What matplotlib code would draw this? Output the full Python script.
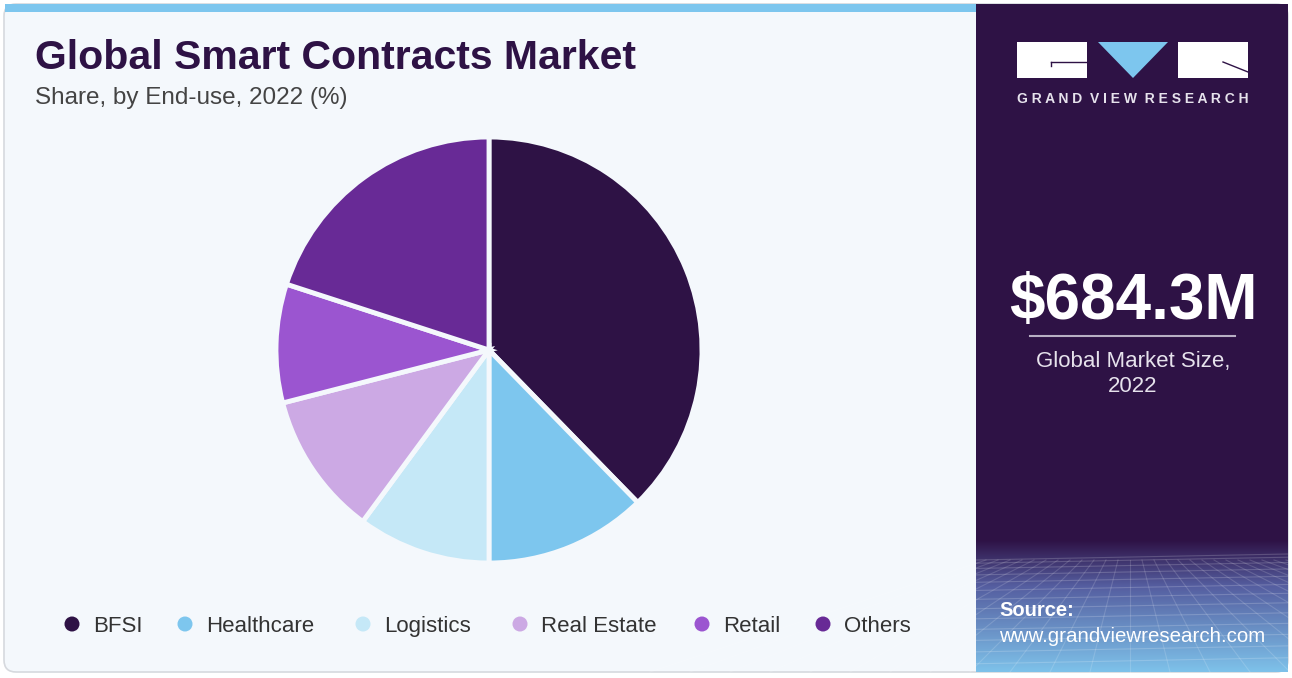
import numpy as np
import matplotlib.pyplot as plt
from matplotlib.patches import FancyBboxPatch, Rectangle, Polygon, Circle

# data
segments = ['BFSI', 'Healthcare', 'Logistics', 'Real Estate', 'Retail', 'Others']
shares = [37.7, 12.3, 10.1, 10.9, 9.0, 20.0]
colors = ['#2E1245', '#7DC6EE', '#C5E8F7', '#CCA9E4', '#9B55D0', '#682A96']
market_size = '$684.3M'
market_label = 'Global Market Size,\n2022'

W, H = 1292, 678
fig = plt.figure(figsize=(W / 100, H / 100), dpi=100)
fig.patch.set_facecolor('white')

# background axes in pixel coordinates
bg = fig.add_axes([0, 0, 1, 1])
bg.set_xlim(0, W)
bg.set_ylim(H, 0)
bg.axis('off')

card = FancyBboxPatch((4, 4), W - 8, H - 10, boxstyle='round,pad=0,rounding_size=12',
                      fc='#F4F8FC', ec='#D6D9DE', lw=1.2, zorder=0)
bg.add_patch(card)
bg.add_patch(Rectangle((5, 4), 972, 8, fc='#7DC6EE', ec='none', zorder=1))

# right dark panel with gradient bottom
bg.add_patch(Rectangle((976, 4), 312, H - 10, fc='#2E1245', ec='none', zorder=1))
grad = np.linspace(0, 1, 200)
c0 = np.array([0x2E, 0x12, 0x45]) / 255
c1 = np.array([0x55, 0x5E, 0xA0]) / 255
c2 = np.array([0x7E, 0xC2, 0xEA]) / 255
img = np.zeros((200, 1, 3))
for i, t in enumerate(grad):
    if t < 0.35:
        img[i, 0] = c0 + (c1 - c0) * (t / 0.35)
    else:
        img[i, 0] = c1 + (c2 - c1) * ((t - 0.35) / 0.65)
bg.imshow(img, extent=(976, 1288, 672, 540), aspect='auto', zorder=2)
# faint grid over the gradient
for k in range(14):
    yy = 560 + (k ** 1.4) * 3.2
    if yy < 672:
        bg.plot([976, 1288], [yy, yy - 6], color='white', alpha=0.18, lw=0.8, zorder=3)
for k in range(-12, 26):
    x0 = 1130 + k * 12
    bg.plot([x0, 1130 + k * 40], [560, 672], color='white', alpha=0.15, lw=0.8, zorder=3)
bg.set_xlim(0, W)
bg.set_ylim(H, 0)

# logo
bg.add_patch(Rectangle((1017, 42), 70, 36, fc='white', ec='none', zorder=4))
bg.add_patch(Polygon([(1098, 42), (1168, 42), (1133, 78)], fc='#7DC6EE', ec='none', zorder=4))
bg.add_patch(Rectangle((1178, 42), 70, 36, fc='white', ec='none', zorder=4))
bg.plot([1051, 1087], [62, 62], color='#2E1245', lw=1, zorder=5)
bg.plot([1051, 1051], [62, 66], color='#2E1245', lw=1, zorder=5)
bg.plot([1223, 1248], [62, 72], color='#2E1245', lw=1, zorder=5)
bg.text(1133, 99, 'G R A N D  V I E W  R E S E A R C H',
        color='#E6E2EC', fontsize=10, fontweight='bold',
        ha='center', va='center', family='Liberation Sans', zorder=5)

# market size block
bg.text(1133, 302, market_size, color='white', fontsize=46, fontweight='bold',
        ha='center', va='center', family='Liberation Sans', zorder=5)
bg.plot([1030, 1235], [336, 336], color='#B8AFC4', lw=1.5, zorder=5)
bg.text(1133, 374, market_label, color='#E6E2EC', fontsize=16, ha='center', va='center',
        family='Liberation Sans', linespacing=1.3, zorder=5)

# source
bg.text(999, 610, 'Source:', color='white', fontsize=14.5, fontweight='bold',
        ha='left', va='center', family='Liberation Sans', zorder=5)
bg.text(999, 636, 'www.grandviewresearch.com', color='white', fontsize=14.8,
        ha='left', va='center', family='Liberation Sans', zorder=5)

# titles
bg.text(35, 58, 'Global Smart Contracts Market', color='#2E1245', fontsize=29.5,
        fontweight='bold', ha='left', va='center', family='Liberation Sans', zorder=5)
bg.text(35, 98, 'Share, by End-use, 2022 (%)', color='#444444', fontsize=17.5,
        ha='left', va='center', family='Liberation Sans', zorder=5)

# pie
cx, cy, r = 489, 350, 213
ax = fig.add_axes([(cx - r) / W, (H - cy - r) / H, 2 * r / W, 2 * r / H])
ax.pie(shares, colors=colors, startangle=90, counterclock=False,
       wedgeprops=dict(edgecolor='#F4F8FC', linewidth=3.5))
ax.set_xlim(-1, 1)
ax.set_ylim(-1, 1)
ax.set_aspect('equal')
ax.axis('off')

# legend
leg_x = [72, 185, 363, 520, 702, 823]
for x, name, col in zip(leg_x, segments, colors):
    bg.add_patch(Circle((x, 624), 7.5, fc=col, ec='none', zorder=5))
    bg.text(x + 21, 624, name, color='#333333', fontsize=16, ha='left',
            va='center_baseline', family='Liberation Sans', zorder=5)

fig.savefig('out.png', dpi=100)
